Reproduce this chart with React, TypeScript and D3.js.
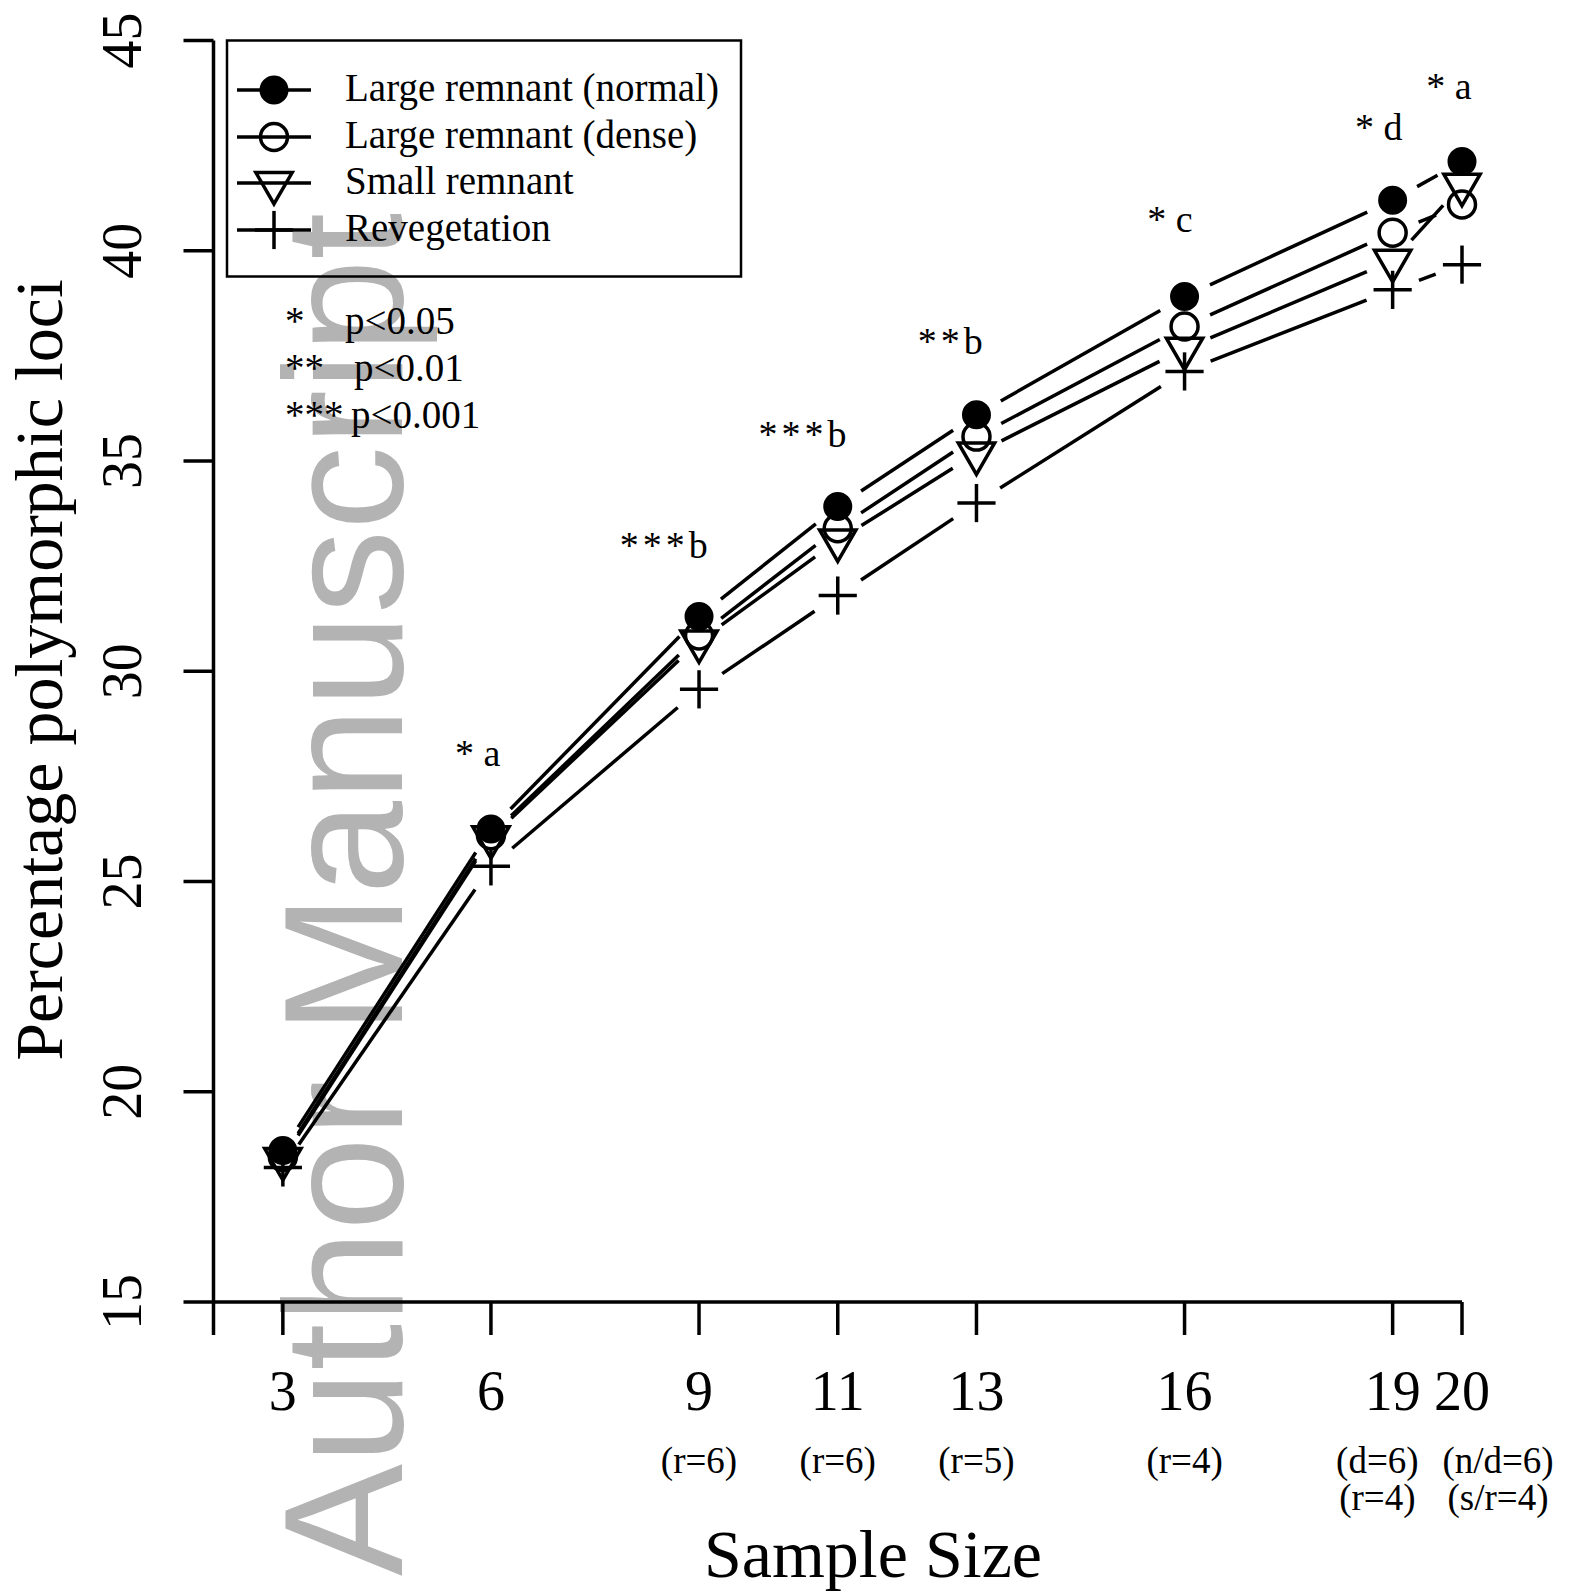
import React from 'react';
import * as d3 from 'd3';

const sampleSizes = [3, 6, 9, 11, 13, 16, 19, 20];
const largeNormal = [18.6, 26.25, 31.3, 33.92, 36.1, 38.91, 41.2, 42.12];
const largeDense = [18.45, 26.1, 30.85, 33.4, 35.58, 38.2, 40.43, 41.1];
const smallRemnant = [18.4, 26.05, 30.71, 33.11, 35.18, 37.67, 39.76, 41.57];
const revegetation = [18.2, 25.36, 29.57, 31.8, 34.0, 37.13, 39.07, 39.67];

const seriesNames = ['Large remnant (normal)', 'Large remnant (dense)', 'Small remnant', 'Revegetation'];
const seriesShapes = ['filled', 'open', 'triangle', 'cross'];

const xTicks = [2, 3, 6, 9, 11, 13, 16, 19, 20];
const xTickLabels = ['', '3', '6', '9', '11', '13', '16', '19', '20'];
const yTicks = [15, 20, 25, 30, 35, 40, 45];

const subLabelX = [9, 11, 13, 16, 18.78, 20.52];
const subLabelLine1 = ['(r=6)', '(r=6)', '(r=5)', '(r=4)', '(d=6)', '(n/d=6)'];
const subLabelLine2 = ['', '', '', '', '(r=4)', '(s/r=4)'];

const annotX = [5.81, 8.52, 10.52, 12.65, 15.79, 18.8, 19.81];
const annotY = [27.75, 32.69, 35.33, 37.54, 40.45, 42.63, 43.61];
const annotText = ['* a', '***b', '***b', '**b', '* c', '* d', '* a'];

const pStars = ['*', '**', '***'];
const pTexts = ['p<0.05', 'p<0.01', 'p<0.001'];

const SERIF = '"Liberation Serif", "Times New Roman", Times, serif';
const SANS = '"Liberation Sans", Arial, Helvetica, sans-serif';

const R = 13.5;
const GAP = 28;

function Marker({ shape, x, y }: { shape: string; x: number; y: number }) {
  if (shape === 'filled') return <circle cx={x} cy={y} r={R} fill="#000" stroke="#000" strokeWidth={2} />;
  if (shape === 'open') return <circle cx={x} cy={y} r={R} fill="none" stroke="#000" strokeWidth={3.5} />;
  if (shape === 'triangle') {
    const r = R * 1.555;
    const xc = (r * Math.sqrt(3)) / 2;
    return (
      <polygon
        points={`${x},${y + r} ${x + xc},${y - r / 2} ${x - xc},${y - r / 2}`}
        fill="none"
        stroke="#000"
        strokeWidth={3.5}
        strokeLinejoin="miter"
      />
    );
  }
  const c = R * 1.414;
  return (
    <g stroke="#000" strokeWidth={3.5}>
      <line x1={x - c} y1={y} x2={x + c} y2={y} />
      <line x1={x} y1={y - c} x2={x} y2={y + c} />
    </g>
  );
}

export default function App() {
  const x = d3.scaleLinear().domain([2, 20]).range([213.5, 1462]);
  const y = d3.scaleLinear().domain([15, 45]).range([1302, 40.5]);
  const allSeries = [largeNormal, largeDense, smallRemnant, revegetation];
  const drawOrder = [3, 2, 1, 0];

  const segments = (vals: number[]) => {
    const pts = sampleSizes.map((s, i) => [x(s), y(vals[i])]);
    const out: number[][] = [];
    for (let i = 0; i < pts.length - 1; i++) {
      const [x1, y1] = pts[i];
      const [x2, y2] = pts[i + 1];
      const L = Math.hypot(x2 - x1, y2 - y1);
      if (L <= 2 * GAP) continue;
      const ux = (x2 - x1) / L;
      const uy = (y2 - y1) / L;
      out.push([x1 + ux * GAP, y1 + uy * GAP, x2 - ux * GAP, y2 - uy * GAP]);
    }
    return out;
  };

  const legendRowY = [90, 137, 183, 230];

  return (
    <svg width={1575} height={1596} style={{ position: 'absolute', left: 0, top: 0, background: '#fff' }}>
      <rect x={0} y={0} width={1575} height={1596} fill="#fff" />

      {/* watermark (underneath everything) */}
      <text
        transform="translate(402,1576) rotate(-90)"
        textAnchor="start"
        fontFamily={SANS}
        fontSize={168}
        fill="#b3b3b3"
      >
        Author Manuscript
      </text>

      {/* axes */}
      <g stroke="#000" strokeWidth={3.5} fill="none">
        <line x1={x(2)} y1={y(45)} x2={x(2)} y2={y(15)} />
        {yTicks.map((t) => (
          <line key={'yt' + t} x1={x(2) - 30} y1={y(t)} x2={x(2)} y2={y(t)} />
        ))}
        <line x1={x(2)} y1={y(15)} x2={x(20)} y2={y(15)} />
        {xTicks.map((t) => (
          <line key={'xt' + t} x1={x(t)} y1={y(15)} x2={x(t)} y2={y(15) + 33} />
        ))}
      </g>
      {yTicks.map((t) => (
        <text
          key={'yl' + t}
          transform={`translate(141,${y(t)}) rotate(-90)`}
          textAnchor="middle"
          fontFamily={SERIF}
          fontSize={56}
        >
          {t}
        </text>
      ))}
      {xTicks.map((t, i) => (
        <text key={'xl' + t} x={x(t)} y={1410} textAnchor="middle" fontFamily={SERIF} fontSize={56}>
          {xTickLabels[i]}
        </text>
      ))}
      {subLabelX.map((sx, i) => (
        <g key={'sl' + i} fontFamily={SERIF} fontSize={37} textAnchor="middle">
          <text x={x(sx)} y={1473}>{subLabelLine1[i]}</text>
          {subLabelLine2[i] && <text x={x(sx)} y={1510}>{subLabelLine2[i]}</text>}
        </g>
      ))}
      <text x={873} y={1577} textAnchor="middle" fontFamily={SERIF} fontSize={68}>
        Sample Size
      </text>
      <text transform="translate(62,670) rotate(-90)" textAnchor="middle" fontFamily={SERIF} fontSize={68}>
        Percentage polymorphic loci
      </text>

      {/* series lines */}
      {drawOrder.map((si) => (
        <g key={'ln' + si} stroke="#000" strokeWidth={3.5}>
          {segments(allSeries[si]).map((s, j) => (
            <line key={j} x1={s[0]} y1={s[1]} x2={s[2]} y2={s[3]} />
          ))}
        </g>
      ))}
      {drawOrder.map((si) => (
        <g key={'mk' + si}>
          {sampleSizes.map((s, i) => (
            <Marker key={i} shape={seriesShapes[si]} x={x(s)} y={y(allSeries[si][i])} />
          ))}
        </g>
      ))}

      {/* annotations */}
      {annotText.map((t, i) => (
        <text
          key={'an' + i}
          x={x(annotX[i])}
          y={y(annotY[i])}
          textAnchor="middle"
          fontFamily={SERIF}
          fontSize={38}
          letterSpacing={t.startsWith('**') ? 4 : 0}
        >
          {t}
        </text>
      ))}

      {/* legend */}
      <rect x={227} y={40.5} width={514} height={236} fill="none" stroke="#000" strokeWidth={2.5} />
      {seriesNames.map((n, i) => (
        <g key={'lg' + i}>
          <line x1={237} y1={legendRowY[i]} x2={311} y2={legendRowY[i]} stroke="#000" strokeWidth={3.5} />
          <Marker shape={seriesShapes[i]} x={274} y={legendRowY[i]} />
          <text x={345} y={legendRowY[i] + 11} fontFamily={SERIF} fontSize={39}>
            {n}
          </text>
        </g>
      ))}
      {pStars.map((s, i) => (
        <g key={'ps' + i} fontFamily={SERIF} fontSize={39}>
          <text x={285} y={334 + i * 47}>{s}</text>
          <text x={[345, 354, 351][i]} y={334 + i * 47}>{pTexts[i]}</text>
        </g>
      ))}
    </svg>
  );
}
